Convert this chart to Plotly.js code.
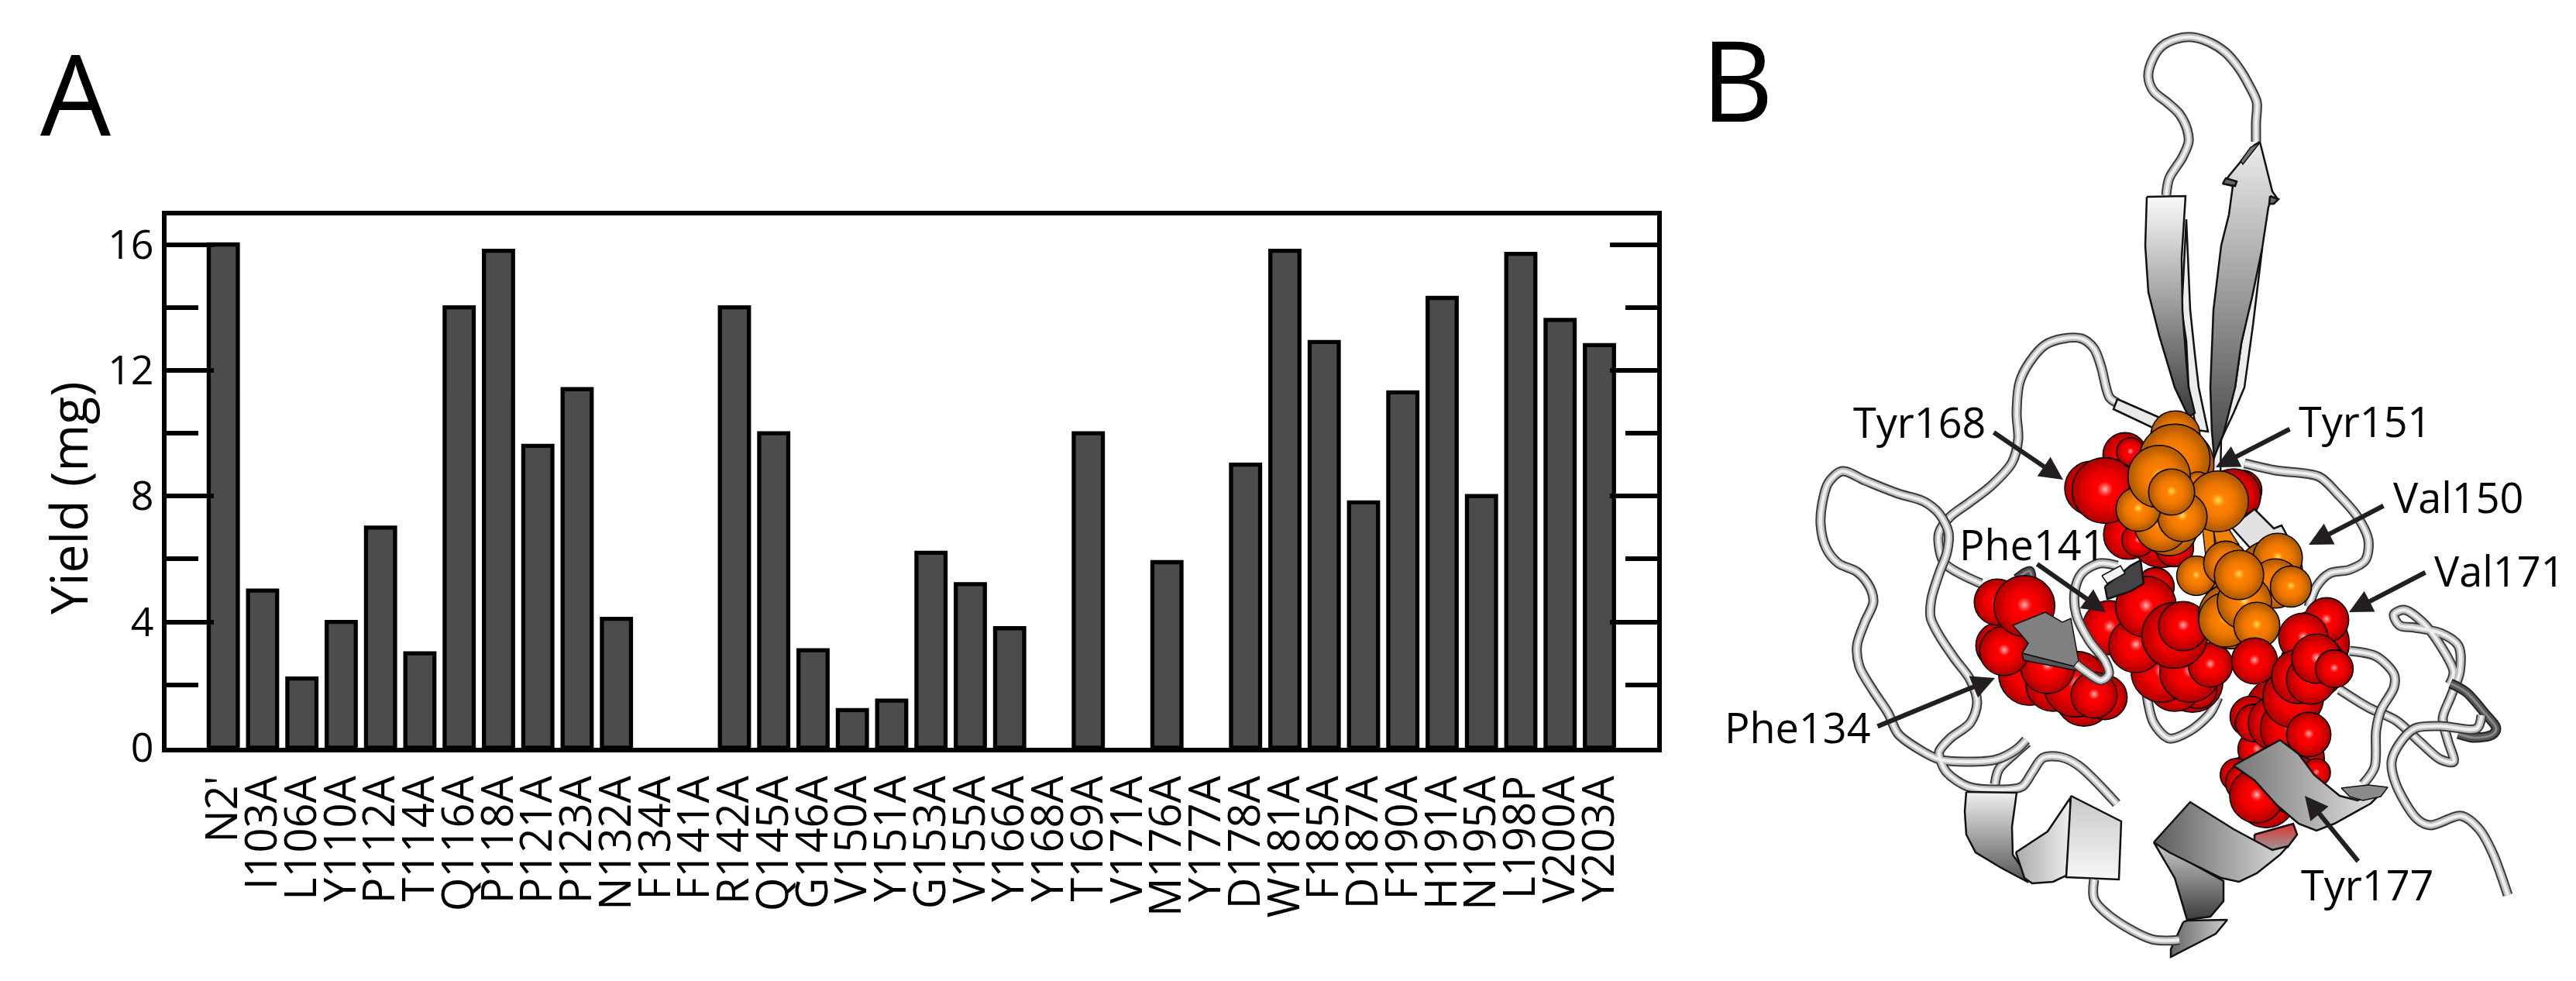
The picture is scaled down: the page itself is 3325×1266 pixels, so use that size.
<!DOCTYPE html>
<html><head><meta charset="utf-8">
<script src="https://cdn.plot.ly/plotly-3.0.1.min.js"></script>
<style>html,body{margin:0;padding:0;background:#fff}</style></head>
<body><div id="chart" style="width:3325px;height:1266px"></div>
<script>
// ---------- Panel A data ----------
const mutants = ["N2'","I103A","L106A","Y110A","P112A","T114A","Q116A","P118A","P121A","P123A","N132A","F134A","F141A","R142A","Q145A","G146A","V150A","Y151A","G153A","V155A","Y166A","Y168A","T169A","V171A","M176A","Y177A","D178A","W181A","F185A","D187A","F190A","H191A","N195A","L198P","V200A","Y203A"];
const yieldMg = [16,5,2.2,4,7,3,14,15.8,9.6,11.4,4.1,0,0,14,10,3.1,1.2,1.5,6.2,5.2,3.8,0,10,0,5.9,0,9,15.8,12.9,7.8,11.3,14.3,8,15.7,13.6,12.8];
const majorTicks = [0,4,8,12,16];
const minorTicks = [2,6,10,14];

// ---------- Panel B data (structure cartoon, [x,y] on the figure) ----------
const coilTopLoop = [[2796,252],[2800,230],[2817,203],[2825,183],[2823,167],[2813,147],[2797,132],[2780,118],[2773,100],[2777,80],[2790,60],[2810,50],[2830,48],[2853,55],[2873,68],[2890,88],[2903,110],[2913,132],[2912,157],[2912,183]];
const coilUpperLeft = [[2557,753],[2510,727],[2503,707],[2503,687],[2517,667],[2540,650],[2570,627],[2597,597],[2605,567],[2603,533],[2607,493],[2620,467],[2640,445],[2663,437],[2687,437],[2703,450],[2712,473],[2723,513],[2733,520]];
const coilLeftOuter = [[2615,955],[2603,967],[2577,980],[2537,983],[2503,980],[2477,967],[2450,947],[2437,920],[2417,890],[2400,860],[2397,833],[2407,803],[2418,777],[2413,757],[2397,738],[2373,727],[2357,707],[2350,677],[2352,650],[2360,623],[2378,608],[2407,620],[2450,637],[2483,647],[2503,663],[2515,687],[2513,713],[2503,740],[2493,773],[2492,797],[2503,820],[2523,850],[2543,877],[2552,907],[2543,933],[2517,953],[2503,970],[2505,982],[2513,997],[2540,1015],[2583,1019],[2610,1015],[2623,997],[2637,978],[2660,977],[2683,988],[2732,1037]];
const coilHelixLink = [[2617,958],[2600,973],[2580,993],[2575,1012]];
const coilTuck = [[2603,747],[2620,737],[2622,747]];
const coilUnder = [[2770,890],[2780,933],[2800,953],[2827,943],[2853,920],[2863,900]];
const coilRightUpper = [[2897,598],[2937,607],[2993,615],[3017,637],[3043,667],[3057,697],[3053,723],[3033,735],[3007,740],[2990,757],[2980,783]];
const coilRightMid = [[3033,840],[3067,847],[3090,870],[3090,887],[3073,917],[3067,943],[3065,990],[3050,1012]];
const coilFarRight = [[3020,890],[3057,913],[3093,930],[3123,957],[3150,980],[3167,983],[3160,957],[3153,927],[3163,900],[3175,867],[3173,833],[3150,817],[3117,810],[3097,807],[3090,793],[3103,787],[3127,803],[3150,833],[3167,867],[3162,883]];
const coilDarkTurn = [[3163,882],[3183,893],[3207,920],[3222,940],[3217,948],[3193,952],[3173,947]];
const coilTail = [[3203,923],[3197,940],[3150,937],[3117,940],[3097,960],[3087,983],[3093,1013],[3120,1057],[3137,1065],[3177,1053],[3200,1070],[3217,1100],[3237,1155]];
const coilBottom = [[2703,1135],[2703,1160],[2723,1182],[2777,1212],[2813,1213]];
const coilPhe141 = [[2733,730],[2710,727],[2687,740],[2678,763],[2680,793],[2697,827],[2717,853],[2722,870],[2712,878],[2693,867],[2680,857]];
const stripUpper = [[2733,515],[2790,540],[2785,555],[2728,528]];

const strandLeftBack = [[2822,283],[2827,400],[2833,457],[2838,500],[2850,557],[2835,555],[2825,500],[2822,440],[2816,400]];
const strandLeftFace = [[2771,254],[2821,253],[2816,333],[2817,400],[2822,467],[2825,500],[2833,533],[2825,538],[2807,500],[2787,433],[2773,377],[2769,317]];
const strandRightBack = [[2920,320],[2908,420],[2897,500],[2883,533],[2867,567],[2866,615],[2855,607],[2858,590],[2870,540],[2885,500],[2893,443]];
const strandRightFace = [[2917,183],[2933,247],[2940,257],[2930,263],[2928,267],[2920,320],[2907,383],[2893,443],[2885,500],[2870,560],[2858,590],[2855,557],[2853,500],[2857,400],[2867,317],[2877,277],[2882,240],[2870,237],[2877,227],[2893,208],[2910,187]];
const barbLeft = [[2869,237],[2873,230],[2887,234],[2885,240]];
const barbRight = [[2930,253],[2941,257],[2935,263],[2929,263]];
const tipDark = [[2892,208],[2905,190],[2917,184],[2910,193],[2895,212]];

const sheetVal = [[2880,680],[2910,657],[2935,682],[2945,678],[2953,693],[2907,710]];
const sheetPhe134 = [[2598,807],[2640,790],[2662,803],[2673,798],[2683,853],[2677,860],[2610,843],[2618,830],[2607,817]];
const sheetPhe134Edge = [[2610,843],[2677,860],[2683,853],[2684,866],[2612,852]];
const sheetPhe141White = [[2713,743],[2737,730],[2743,740],[2720,753]];
const sheetPhe141Dark = [[2717,757],[2750,730],[2763,723],[2767,753],[2750,763],[2720,773]];
const stickOrangeA = [[2843,683],[2857,683],[2860,717],[2847,717]];
const stickOrangeB = [[2857,683],[2877,683],[2890,703],[2863,717]];

const helixA = [[2538,1022],[2603,1023],[2597,1067],[2598,1103],[2617,1130],[2617,1138],[2583,1120],[2550,1100],[2538,1077],[2536,1047]];
const helixB = [[2602,1100],[2643,1073],[2672,1030],[2673,1060],[2667,1130],[2650,1138],[2623,1140],[2613,1133]];
const helixC = [[2673,1027],[2738,1060],[2735,1135],[2667,1132]];
const helixD = [[2780,1087],[2870,1137],[2870,1163],[2853,1183],[2823,1187],[2807,1133]];
const helixE = [[2780,1087],[2827,1035],[2883,1070],[2910,1085],[2933,1097],[2953,1092],[2943,1103],[2913,1127],[2890,1138],[2867,1133],[2800,1100]];
const helixF = [[2910,1077],[2960,1063],[2965,1077],[2953,1093],[2933,1097],[2910,1085]];
const helixG = [[2883,988],[2943,955],[2967,973],[2987,1000],[3020,1027],[3043,1033],[3080,1017],[3060,1037],[3013,1063],[2990,1072],[2967,1063],[2940,1040],[2910,1007]];
const helixLid = [[3022,1017],[3057,1013],[3082,1016],[3073,1028],[3050,1033],[3033,1028]];
const wedge = [[2818,1190],[2823,1188],[2875,1187],[2860,1205],[2802,1235],[2802,1225]];

// spheres: [x, y, radius]
const redBack = [[2945,920,45],[2905,925,25],[2960,980,38],[2905,1005,30],[2925,1030,36],[2960,1012,36],[2903,933,17],[2913,967,23],[2887,1000,20],[2897,1010,23],[2913,1027,33],[2990,997,17],[2910,933,23],[2937,933,33],[2957,940,37],[2960,900,37],[2980,948,27],
 [2790,690,40],[2743,587,27],[2750,583,17],[2747,690,30],[2760,697,20],[2807,707,23],[2700,630,33],[2717,633,40],[2893,633,25],[2883,640,33],
 [2620,870,38],[2690,900,35],[2717,900,27],[2650,883,33],[2680,883,40],[2703,897,28],[2643,860,33],[2580,833,28],[2587,840,30],[2578,777,28],[2613,782,37],
 [2782,757,23],[2723,810,33],[2800,850,45],[2830,880,37],[2837,890,23],[2807,883,33],[2790,867,37],[2827,867,37],[2853,858,27],[2757,833,33],[2770,783,37],[2807,820,40],[2818,808,30]];
const orangeTop = [[2808,562,30],[2810,600,45],[2800,640,50],[2800,680,35],[2807,593,43],[2837,627,17],[2863,647,37],[2790,677,33],[2817,667,30],[2760,657,27],[2787,615,38],[2803,635,28]];
const orangeLow = [[2890,770,40],[2930,740,40],[2880,795,40],[2835,743,24],[2873,727,27],[2940,720,30],[2937,753,30],[2873,800,33],[2897,777,33],[2957,757,25],[2890,742,30],[2913,807,28]];
const redFront = [[2910,853,28],[2990,830,40],[2985,860,40],[3003,800,27],[2973,823,30],[2967,873,33],[2983,877,30],[2990,850,30],[3013,863,23]];

// labels: [text, left x, cap-centre y]
const labelText = ["Tyr168","Phe141","Phe134","Tyr151","Val150","Val171","Tyr177"];
const labelX = [2390,2527,2224,2965,3087,3140,2968];
const labelY = [544,702,938,543,641,736,1141];
// arrows: tail x, tail y, head x, head y
const arrowsB = [[2572,557,2663,619],[2628,727,2718,790],[2422,938,2575,875],[2957,553,2860,603],[3078,652,2980,703],[3132,738,3032,790],[3045,1113,2975,1027]];

// ---------- helpers ----------
const sub = {xaxis:'x2', yaxis:'y2', hoverinfo:'skip', showlegend:false};
const xs = p => p.map(d=>d[0]);
const ys = p => p.map(d=>d[1]);
function coil(path, dark){
  const widths = dark ? [[13,'#222'],[9,'#555'],[3,'#888']] : [[13,'#3a3a3a'],[9,'#bdbdbd'],[4,'#efefef']];
  return widths.map(w=>Object.assign({type:'scatter',mode:'lines',x:xs(path),y:ys(path),
    line:{color:w[1],width:w[0],shape:'spline',smoothing:0.9}},sub));
}
function poly(path, fill, grad, lw){
  const t = Object.assign({type:'scatter',mode:'lines',x:xs(path).concat(path[0][0]),y:ys(path).concat(path[0][1]),
    fill:'toself',fillcolor:fill||'#ddd',line:{color:'#111',width:lw===undefined?2.5:lw}},sub);
  if(grad) t.fillgradient = {type:grad[0],colorscale:grad[0]==='vertical'?[[0,grad[2]],[1,grad[1]]]:[[0,grad[1]],[1,grad[2]]]};
  return t;
}
function spheres(list, base, edge, spot){
  const X=[],Y=[],S=[],C=[],G=[],L=[];
  const add=(x,y,s,c,g,l)=>{X.push(x);Y.push(y);S.push(s);C.push(c);G.push(g);L.push(l);};
  const clear = base==='#ff0000' ? 'rgba(255,0,0,0)' : 'rgba(255,128,0,0)';
  list.forEach(d=>{
    const r=d[2]*1.06;
    add(d[0],d[1],2*r,edge,base,1.6);
    add(d[0],d[1],1.8*r,clear,base,0);
    add(d[0],d[1],1.6*r,clear,base,0);
    add(d[0],d[1]-0.04*r,0.5*r,spot[0],spot[1],0);
  });
  return Object.assign({type:'scatter',mode:'markers',x:X,y:Y,
    marker:{size:S,color:C,opacity:1,gradient:{type:'radial',color:G},line:{color:'#000',width:L}}},sub);
}
const redSpot=['rgba(255,120,120,0)','rgba(255,200,200,0.95)'];
const orangeSpot=['rgba(255,170,30,0)','rgba(255,240,110,0.95)'];

// ---------- traces ----------
const bars = {type:'bar',x:mutants,y:yieldMg,width:0.74,hoverinfo:'x+y',
  marker:{color:'#4c4c4c',line:{color:'#000',width:yieldMg.map(v=>v>0?5.3:0)}}};

const data = [bars]
 .concat(coil(coilTopLoop))
 .concat(coil(coilUpperLeft))
 .concat([poly(stripUpper,'#e8e8e8')])
 .concat(coil(coilHelixLink))
 .concat(coil(coilLeftOuter))
 .concat(coil(coilTuck,true))
 .concat(coil(coilUnder))
 .concat(coil(coilRightUpper))
 .concat(coil(coilFarRight))
 .concat(coil(coilDarkTurn,true))
 .concat(coil(coilRightMid))
 .concat(coil(coilTail))
 .concat([
   poly(strandLeftBack,'#ececec'),
   poly(strandLeftFace,'#999',['vertical','#fafafa','#3a3a3a']),
   poly(strandRightBack,'#ececec'),
   poly(strandRightFace,'#999',['vertical','#ececec','#444']),
   poly(barbLeft,'#666'),poly(barbRight,'#666'),poly(tipDark,'#777',null,1.5)
 ])
 .concat([spheres(redBack,'#ff0000','#b00000',redSpot)])
 .concat([poly(sheetVal,'#e2e2e2'),poly(stickOrangeA,'#f08000',null,1.5),poly(stickOrangeB,'#f08000',null,1.5)])
 .concat([spheres(orangeTop,'#ff8000','#b05a00',orangeSpot),spheres(orangeLow,'#ff8000','#b05a00',orangeSpot)])
 .concat([spheres(redFront,'#ff0000','#b00000',redSpot)])
 .concat([poly(sheetPhe134,'#808080',null,1.5),poly(sheetPhe134Edge,'#555',null,1.5)])
 .concat(coil(coilPhe141))
 .concat([poly(sheetPhe141Dark,'#444'),poly(sheetPhe141White,'#f2f2f2',null,1.5)])
 .concat([
   poly(helixA,'#aaa',['vertical','#f0f0f0','#555']),
   poly(helixB,'#ccc',['horizontal','#aaa','#eee']),
   poly(helixC,'#eee',['vertical','#c8c8c8','#f6f6f6']),
   poly(helixD,'#888',['vertical','#ccc','#3c3c3c']),
   poly(helixF,'#aaa',['vertical','#e03030','#999']),
   poly(helixE,'#bbb',['horizontal','#5c5c5c','#ddd']),
   poly(wedge,'#999',['horizontal','#666','#ccc']),
   poly(helixG,'#bbb',['horizontal','#757575','#e8e8e8']),
   poly(helixLid,'#8a8a8a',null,1.5)
 ])
 .concat(coil(coilBottom));

// ---------- annotations ----------
const annotations = [
  {xref:'paper',yref:'paper',x:50/3325,y:1-119/1266,xanchor:'left',yanchor:'middle',text:'A',showarrow:false,
   font:{family:'Open Sans',size:144,color:'#000'}},
  {xref:'paper',yref:'paper',x:2194/3325,y:1-101/1266,xanchor:'left',yanchor:'middle',text:'B',showarrow:false,
   font:{family:'Open Sans',size:144,color:'#000'}},
  {xref:'paper',yref:'paper',x:87/3325,y:1-643/1266,xanchor:'center',yanchor:'middle',text:'Yield (mg)',textangle:-90,showarrow:false,
   font:{family:'Open Sans',size:66,color:'#000'}}
];
labelText.forEach((t,i)=>annotations.push({xref:'x2',yref:'y2',x:labelX[i],y:labelY[i],xanchor:'left',yanchor:'middle',
  text:t,showarrow:false,font:{family:'Open Sans',size:54,color:'#000'}}));
arrowsB.forEach(a=>annotations.push({xref:'x2',yref:'y2',axref:'x2',ayref:'y2',x:a[2],y:a[3],ax:a[0],ay:a[1],text:'',
  showarrow:true,arrowhead:2,arrowsize:1,arrowwidth:6,arrowcolor:'#231f20',standoff:0}));

// ---------- layout ----------
const layout = {
  width:3325,height:1266,autosize:false,margin:{l:0,r:0,t:0,b:0},
  paper_bgcolor:'#fff',plot_bgcolor:'rgba(0,0,0,0)',showlegend:false,bargap:0.26,
  xaxis:{domain:[214.75/3325,2138.5/3325],range:[-1.447,36.458],type:'category',categoryorder:'array',categoryarray:mutants,
    tickmode:'array',tickvals:mutants,ticktext:mutants,tickangle:-90,ticks:'',ticklabelstandoff:8,
    tickfont:{family:'Liberation Sans Narrow, Open Sans',size:56,color:'#000'},
    showline:true,linecolor:'#000',linewidth:5.5,mirror:true,showgrid:false,zeroline:false},
  yaxis:{domain:[1-965/1266,1-277.75/1266],range:[0,16.93],tickmode:'array',tickvals:majorTicks,ticktext:majorTicks.map(String),
    ticks:'inside',ticklen:61,tickwidth:5.5,tickcolor:'#000',
    minor:{tickmode:'array',tickvals:minorTicks,ticks:'inside',ticklen:41,tickwidth:5.5,tickcolor:'#000'},
    tickfont:{family:'Open Sans',size:52,color:'#000'},
    showline:true,linecolor:'#000',linewidth:5.5,mirror:'ticks',showgrid:false,zeroline:false},
  xaxis2:{domain:[0,1],range:[0,3325],anchor:'y2',visible:false,fixedrange:true},
  yaxis2:{domain:[0,1],range:[1266,0],anchor:'x2',visible:false,fixedrange:true},
  annotations:annotations
};
Plotly.newPlot('chart',data,layout,{displayModeBar:false,responsive:false});
</script></body></html>
